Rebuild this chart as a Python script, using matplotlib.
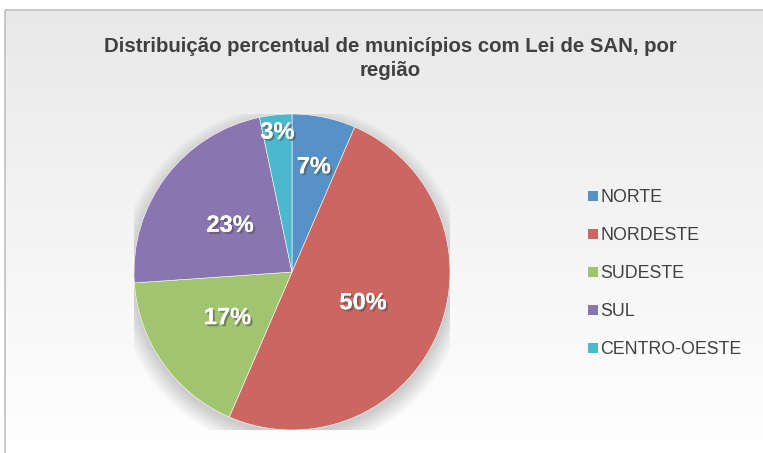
import numpy as np
import matplotlib
matplotlib.use("Agg")
import matplotlib.pyplot as plt
import matplotlib.patheffects as pe
from matplotlib.patches import Rectangle, Circle

plt.rcParams['font.family'] = ['Liberation Sans', 'DejaVu Sans']

regioes = ["NORTE", "NORDESTE", "SUDESTE", "SUL", "CENTRO-OESTE"]
percentuais = [6.5, 50.0, 17.4, 22.8, 3.3]
rotulos = ["7%", "50%", "17%", "23%", "3%"]
cores = ["#5692C8", "#CB6660", "#A0C470", "#8975B0", "#4CB8CE"]
raio_rotulo = [0.68, 0.49, 0.50, 0.49, 0.89]

W, H = 763, 453
fig = plt.figure(figsize=(W / 100, H / 100), dpi=100)
fig.patch.set_facecolor("white")

# background gradient inside the chart frame
bg = fig.add_axes([0, 0, 1, 1])
bg.set_xlim(0, W)
bg.set_ylim(H, 0)
bg.axis("off")
grad = np.linspace(0, 1, 256).reshape(-1, 1)
top = np.array([0.91, 0.91, 0.91])
bot = np.array([1.0, 1.0, 1.0])
img = top + (bot - top) * grad[..., None] ** 0.9
bg.imshow(img, extent=[5, W + 5, H + 5, 10], aspect="auto", zorder=0)
bg.add_patch(Rectangle((5, 10), W + 10, H + 10, fill=False,
                       edgecolor="#BFBFBF", linewidth=1.2, zorder=1))

# pie
cx, cy, r = 292, 272, 158
ax = fig.add_axes([(cx - r) / W, (H - cy - r) / H, 2 * r / W, 2 * r / H])
ax.axis("off")

# soft shadow
for i in range(12):
    ax.add_patch(Circle((0.0, -0.04), 0.99 + 0.01 * i, color="black",
                        alpha=0.016, lw=0, zorder=0))

wedges, _ = ax.pie(percentuais, colors=cores, startangle=90, counterclock=False,
                   radius=1.0, wedgeprops=dict(edgecolor="white", linewidth=0.4))
for w in wedges:
    w.set_zorder(2)
ax.set_xlim(-1, 1)
ax.set_ylim(-1, 1)
ax.set_aspect("equal")

for w, txt, rr in zip(wedges, rotulos, raio_rotulo):
    ang = np.deg2rad((w.theta1 + w.theta2) / 2)
    ax.text(rr * np.cos(ang), rr * np.sin(ang), txt, ha="center", va="center",
            fontsize=17, fontweight="bold", color="white", zorder=3,
            path_effects=[pe.withSimplePatchShadow(offset=(1.5, -1.5),
                                                  shadow_rgbFace="#555555", alpha=0.6),
                          pe.Normal()])

# title
fig.text(390 / W, 1 - 46 / H, "Distribuição percentual de municípios com Lei de SAN, por",
         ha="center", va="center", fontsize=14.7, fontweight="bold", color="#404040")
fig.text(390 / W, 1 - 70 / H, "região",
         ha="center", va="center", fontsize=14.7, fontweight="bold", color="#404040")

# legend
leg_y = [197, 235, 273, 311, 349]
for nome, cor, y in zip(regioes, cores, leg_y):
    bg.add_patch(Rectangle((588, y - 6), 10, 10, facecolor=cor, edgecolor="none", zorder=2))
    bg.text(600, y + 1, nome, ha="left", va="center", fontsize=12.8, color="#404040", zorder=2)

fig.savefig("out.png", dpi=100)
